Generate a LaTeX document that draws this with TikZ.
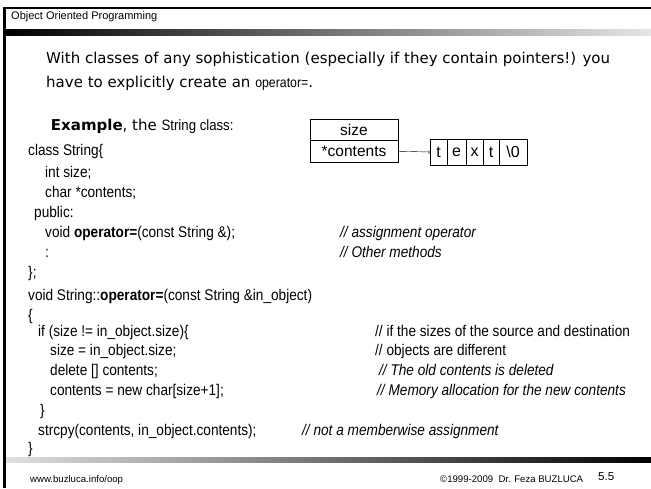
\documentclass[tikz,border=0pt]{standalone}
\usepackage{fontspec}
\setmainfont{Liberation Sans}
\newfontfamily\codefont{Liberation Sans}[FakeStretch=0.88]
\newfontfamily\talkfont{DejaVu Sans}
\usetikzlibrary{positioning}

\tikzset{
  talk/.style={anchor=base west, inner sep=0, font=\talkfont\fontsize{15}{16}\selectfont},
  code/.style={anchor=base west, inner sep=0, font=\codefont\fontsize{15.5}{17}\selectfont},
  note/.style={code, font=\codefont\itshape\fontsize{15.5}{17}\selectfont},
  foot/.style={anchor=base west, inner sep=0, font=\fontsize{9.6}{12}\selectfont},
  field/.style={draw, minimum width=88, minimum height=21.5, inner sep=0, outer sep=0, font=\fontsize{15.5}{17}\selectfont},
  cell/.style={draw, minimum height=26, inner sep=0, outer sep=0, font=\fontsize{16}{18}\selectfont}
}

\begin{document}
\begin{tikzpicture}[x=1pt, y=-1pt]
  \useasboundingbox (0,0) rectangle (651,488);

  % frame and the two shaded bars
  \fill[black] (3,7) rectangle (6,488);
  \draw[line width=1.8pt] (3,8) -- (651,8);
  \shade[left color=black, right color=black!10] (6,29) rectangle (651,35);
  \shade[left color=black!12, right color=black] (6,457) rectangle (651,462);

  \node[anchor=base west, inner sep=0, font=\fontsize{11}{13}\selectfont] (title) at (11,19) {Object Oriented Programming};

  % intro text
  \node[talk] (intro1) at (46,63) {With classes of any sophistication (especially if they contain pointers!) you};
  \node[talk] (intro2) at (46,87) {have to explicitly create an {\codefont\fontsize{14}{16}\selectfont operator=}.};
  \node[talk] (example) at (46,130) {\ \textbf{Example}, the {\codefont String class:}};

  % class declaration
  \def\codeleft{28}
  \node[code] (l1) at (\codeleft,155) {class String\{};
  \node[code] (l2) at (45,177) {int size;};
  \node[code] (l3) at (45,197) {char *contents;};
  \node[code] (l4) at (34,217) {public:};
  \node[code] (l5) at (45,237) {void \textbf{operator=}(const String \&);};
  \node[code] (l6) at (45,257) {:};
  \node[code] (l7) at (\codeleft,277) {\};};
  \node[note] (n5) at (340,237) {// assignment operator};
  \node[note] (n6) at (340,257) {// Other methods};

  % memory picture of a String object
  \node[field, anchor=north west] (size) at (310,119) {size};
  \node[field, below=0 of size] (contents) {*contents};
  \coordinate (c0) at (430,152);
  \foreach \ch/\w [count=\i, remember=\i as \j (initially 0)] in {t/17, e/19, x/17, t/16, \textbackslash 0/28} {
    \node[cell, minimum width=\w, anchor=west] (c\i) at (c\j.east) {\ch};
  }
  \draw[->] (contents.east) -- (c1.west);

  % definition of operator=
  \node[code] (d1) at (\codeleft,300) {void String::\textbf{operator=}(const String \&in\_object)};
  \node[code] (d2) at (\codeleft,320) {\{};
  \node[code] (d3) at (38,336) {if (size != in\_object.size)\{};
  \node[code] (d4) at (50,355) {size = in\_object.size;};
  \node[code] (d5) at (50,375) {delete [] contents;};
  \node[code] (d6) at (50,395) {contents = new char[size+1];};
  \node[code] (d7) at (40,415) {\}};
  \node[code] (d8) at (38,435) {strcpy(contents, in\_object.contents);};
  \node[code] (d9) at (\codeleft,453) {\}};
  \node[code] (m3) at (375,336) {// if the sizes of the source and destination};
  \node[code] (m4) at (375,355) {// objects are different};
  \node[note] (m5) at (379,375) {// The old contents is deleted};
  \node[note] (m6) at (377,395) {// Memory allocation for the new contents};
  \node[note] (m8) at (302,435) {// not a memberwise assignment};

  % footer
  \node[foot] (url) at (30,482) {www.buzluca.info/oop};
  \node[foot] (copy) at (440,482) {\textcopyright1999-2009\ \ Dr. Feza BUZLUCA};
  \node[foot, font=\fontsize{11.5}{13}\selectfont] (page) at (598,480) {5.5};
\end{tikzpicture}
\end{document}
